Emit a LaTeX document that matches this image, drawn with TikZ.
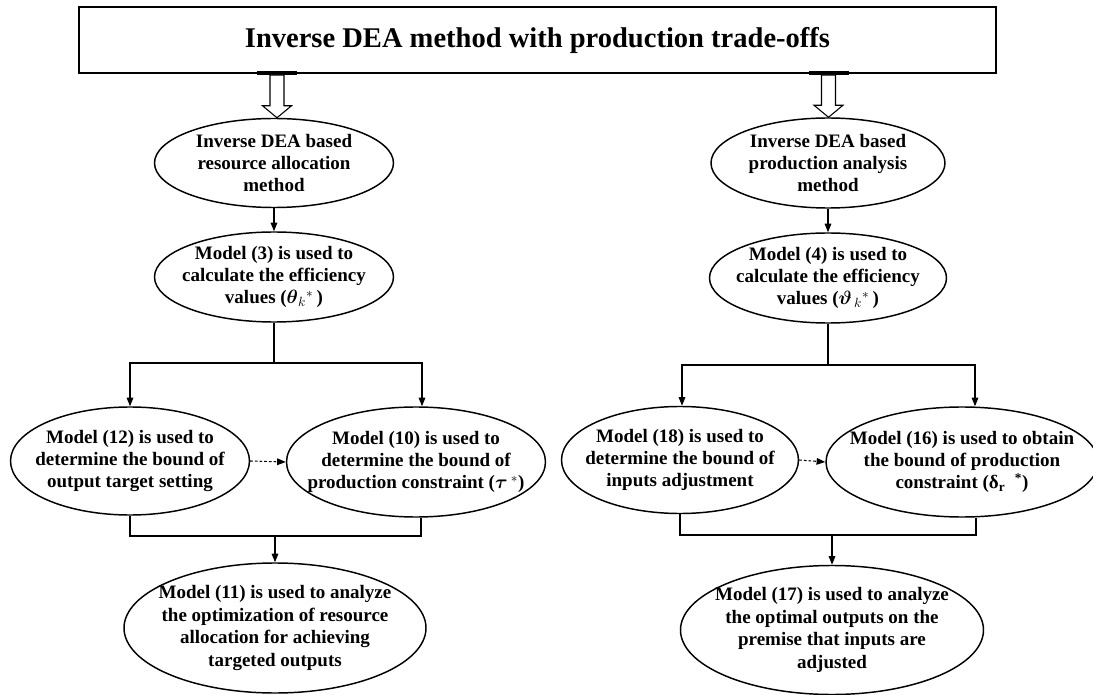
\documentclass[tikz,border=0pt]{standalone}
\usepackage{fontspec}
\setmainfont{Liberation Serif}
\usepackage{amsmath}
\usetikzlibrary{shapes.geometric,arrows.meta,calc}

\begin{document}
\begin{tikzpicture}[
    x=0.75pt,
    y=-0.75pt,
    titlebox/.style={
        draw,
        line width=0.8pt,
        minimum width=687.75pt,
        minimum height=49.5pt,
        font=\fontsize{21.4}{25}\selectfont\bfseries
    },
    bar/.style={
        fill=black,
        minimum width=30pt,
        minimum height=2.6pt,
        inner sep=0pt
    },
    oval/.style={
        draw,
        ellipse,
        line width=1.1pt,
        align=center,
        inner xsep=-40pt,
        inner ysep=-20pt,
        font=\fontsize{14.25}{16.8}\selectfont\bfseries
    },
    link/.style={
        line width=0.8pt
    },
    arrow/.style={
        -{Triangle[length=6.5pt,width=5pt]},
        line width=0.8pt
    },
    dotarrow/.style={
        arrow,
        dash pattern=on 2pt off 1.5pt
    },
    hollow/.style={
        draw,
        fill=white,
        line width=0.8pt,
        to path={
            ($(\tikztostart)+(-7,0)$) -- ($(\tikztostart |- \tikztotarget)+(-7,-12)$)
            -- ($(\tikztostart |- \tikztotarget)+(-14.5,-12)$) -- (\tikztostart |- \tikztotarget)
            -- ($(\tikztostart |- \tikztotarget)+(14.5,-12)$) -- ($(\tikztostart |- \tikztotarget)+(7,-12)$)
            -- ($(\tikztostart)+(7,0)$) -- cycle
        }
    }
]

\useasboundingbox (0,0) rectangle (1093,695);

\node[titlebox] (title) at (537.5,40)
{
    Inverse DEA method with production trade-offs
};

\node[bar] (barL) at (277,73) {};
\node[bar] (barR) at (828.5,73) {};

% left column
\node[oval, minimum width=179.25pt, minimum height=66.75pt] (resalloc) at (274,163)
{
    Inverse DEA based\\
    resource allocation\\
    method
};

\node[oval, minimum width=179.25pt, minimum height=67.5pt] (effL) at (274,277)
{
    Model (3) is used to\\
    calculate the efficiency\\
    values ($\boldsymbol{\theta}_{k}{}^{*}$\,)
};

\node[oval, minimum width=179.25pt, minimum height=81pt] (bound12) at (130,461)
{
    Model (12) is used to\\
    determine the bound of\\
    output target setting
};

\node[oval, minimum width=194.25pt, minimum height=82.5pt] (bound10) at (416,462)
{
    Model (10) is used to\\
    determine the bound of\\
    production constraint ($\boldsymbol{\tau}\,{}^{*}$)
};

\node[oval, minimum width=226.5pt, minimum height=97.5pt] (opt11) at (275,628)
{
    Model (11) is used to analyze\\
    the optimization of resource\\
    allocation for achieving\\
    targeted outputs
};

% right column
\node[oval, minimum width=175.5pt, minimum height=67.5pt] (prodana) at (828,163)
{
    Inverse DEA based\\
    production analysis\\
    method
};

\node[oval, minimum width=177.75pt, minimum height=67.5pt] (effR) at (828,278)
{
    Model (4) is used to\\
    calculate the efficiency\\
    values ($\boldsymbol{\vartheta}_{\,k}{}^{*}$\,)
};

\node[oval, minimum width=177.75pt, minimum height=80.25pt] (bound18) at (680,460)
{
    Model (18) is used to\\
    determine the bound of\\
    inputs adjustment
};

\node[oval, minimum width=204pt, minimum height=82.5pt] (bound16) at (962,462)
{
    Model (16) is used to obtain\\
    the bound of production\\
    constraint (δ\textsubscript{r}\ \ \textsuperscript{*})
};

\node[oval, minimum width=227.25pt, minimum height=96.75pt] (opt17) at (832,630)
{
    Model (17) is used to analyze\\
    the optimal outputs on the\\
    premise that inputs are\\
    adjusted
};

\coordinate (splitL) at (274,363);
\coordinate (splitR) at (828,365);
\coordinate (joinL) at (275,536);
\coordinate (joinR) at (832,535);

\draw[hollow] (barL.south) to (resalloc.north);
\draw[hollow] (barR.south) to (prodana.north);

\draw[arrow] (resalloc) -- (effL);
\draw[arrow] (prodana) -- (effR);

\draw[link] (effL.south) -- (splitL);
\draw[arrow] (splitL) -| (bound12.north);
\draw[arrow] (splitL) -| ($(bound10.north)+(6,0)$);

\draw[link] (effR.south) -- (splitR);
\draw[arrow] (splitR) -| ($(bound18.north)+(2,0)$);
\draw[arrow] (splitR) -| ($(bound16.north)+(13,0)$);

\draw[dotarrow] (bound12.east) -- (bound10.west);
\draw[dotarrow] (bound18.east) -- (bound16.west);

\draw[link] (bound12.south) |- (joinL) -| ($(bound10.south)+(5,0)$);
\draw[arrow] (joinL) -- (opt11);

\draw[link] (bound18.south) |- (joinR) -| ($(bound16.south)+(14,0)$);
\draw[arrow] (joinR) -- (opt17);

\end{tikzpicture}
\end{document}
